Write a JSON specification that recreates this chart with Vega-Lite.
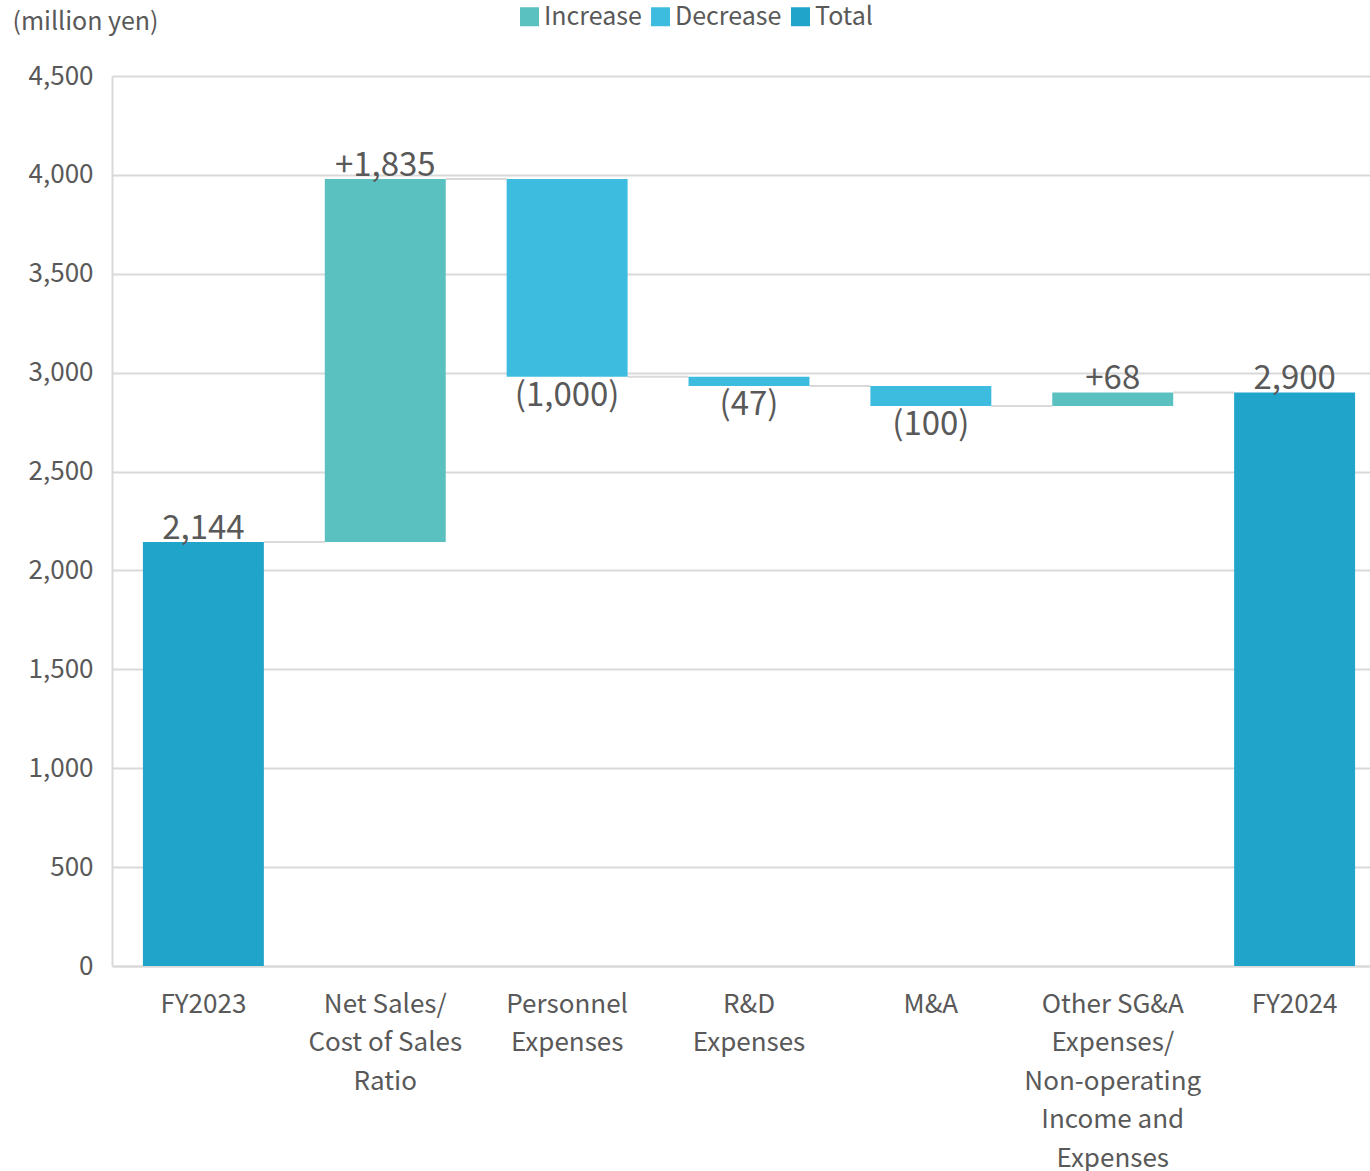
{
  "$schema": "https://vega.github.io/schema/vega-lite/v6.json",
  "width": 1274,
  "height": 890,
  "autosize": {"type": "none"},
  "padding": {"left": 112, "top": 76, "right": 0, "bottom": 205},
  "background": "white",
  "config": {
    "font": "Noto Sans CJK JP",
    "view": {"stroke": null}
  },
  "data": {
    "values": [
      {"cat": "FY2023", "start": 0, "end": 2144, "type": "Total", "label": "2,144", "next": "Net Sales/|Cost of Sales|Ratio"},
      {"cat": "Net Sales/|Cost of Sales|Ratio", "start": 2144, "end": 3979, "type": "Increase", "label": "+1,835", "next": "Personnel|Expenses"},
      {"cat": "Personnel|Expenses", "start": 3979, "end": 2979, "type": "Decrease", "label": "(1,000)", "next": "R&D|Expenses"},
      {"cat": "R&D|Expenses", "start": 2979, "end": 2932, "type": "Decrease", "label": "(47)", "next": "M&A"},
      {"cat": "M&A", "start": 2932, "end": 2832, "type": "Decrease", "label": "(100)", "next": "Other SG&A|Expenses/|Non-operating|Income and|Expenses"},
      {"cat": "Other SG&A|Expenses/|Non-operating|Income and|Expenses", "start": 2832, "end": 2900, "type": "Increase", "label": "+68", "next": "FY2024"},
      {"cat": "FY2024", "start": 0, "end": 2900, "type": "Total", "label": "2,900", "next": null}
    ]
  },
  "layer": [
    {
      "transform": [{"filter": "datum.next != null"}],
      "mark": {"type": "rule", "color": "#d9d9d9", "strokeWidth": 2},
      "encoding": {
        "x": {"field": "cat", "type": "nominal", "sort": null, "bandPosition": 1,
          "scale": {"paddingInner": 0.335, "paddingOuter": 0.17}},
        "x2": {"field": "next", "bandPosition": 0},
        "y": {"field": "end", "type": "quantitative"}
      }
    },
    {
      "mark": {"type": "bar"},
      "encoding": {
        "x": {"field": "cat", "type": "nominal", "sort": null,
          "scale": {"paddingInner": 0.335, "paddingOuter": 0.17},
          "axis": {
            "title": null, "labelAngle": 0, "labelAlign": "center", "ticks": false,
            "domainColor": "#d9d9d9", "domainWidth": 2,
            "labelFontSize": 26, "labelColor": "#595959",
            "labelLineHeight": 38.5, "labelPadding": 38, "labelLimit": 0,
            "labelExpr": "split(datum.value, '|')"
          }},
        "y": {"field": "start", "type": "quantitative",
          "scale": {"domain": [0, 4500], "nice": false},
          "axis": {
            "values": [0, 500, 1000, 1500, 2000, 2500, 3000, 3500, 4000, 4500],
            "format": ",.0f", "ticks": false,
            "domainColor": "#d9d9d9", "domainWidth": 2,
            "gridColor": "#d9d9d9", "gridWidth": 2,
            "labelFontSize": 26, "labelColor": "#595959", "labelPadding": 19,
            "title": "(million yen)", "titleAngle": 0, "titleX": -100, "titleY": -55,
            "titleAlign": "left", "titleBaseline": "middle", "titleFontSize": 25,
            "titleFontWeight": "normal", "titleColor": "#595959"
          }},
        "y2": {"field": "end"},
        "color": {"field": "type", "type": "nominal",
          "scale": {"domain": ["Increase", "Decrease", "Total"], "range": ["#5ac0c0", "#3ebcdf", "#20a4ca"]},
          "legend": {
            "title": null, "orient": "none", "legendX": 405, "legendY": -72,
            "direction": "horizontal", "symbolType": "square", "symbolSize": 361,
            "symbolStrokeWidth": 0, "labelFontSize": 25, "labelColor": "#595959",
            "labelOffset": 2, "columnPadding": 6
          }}
      }
    },
    {
      "transform": [{"filter": "datum.type != 'Decrease'"}],
      "mark": {"type": "text", "baseline": "alphabetic", "dy": -3, "fontSize": 33, "color": "#595959"},
      "encoding": {
        "x": {"field": "cat", "type": "nominal", "sort": null, "bandPosition": 0.5},
        "y": {"field": "end", "type": "quantitative"},
        "text": {"field": "label"}
      }
    },
    {
      "transform": [{"filter": "datum.type == 'Decrease'"}],
      "mark": {"type": "text", "baseline": "top", "dy": 3, "fontSize": 33, "color": "#595959"},
      "encoding": {
        "x": {"field": "cat", "type": "nominal", "sort": null, "bandPosition": 0.5},
        "y": {"field": "end", "type": "quantitative"},
        "text": {"field": "label"}
      }
    }
  ]
}
